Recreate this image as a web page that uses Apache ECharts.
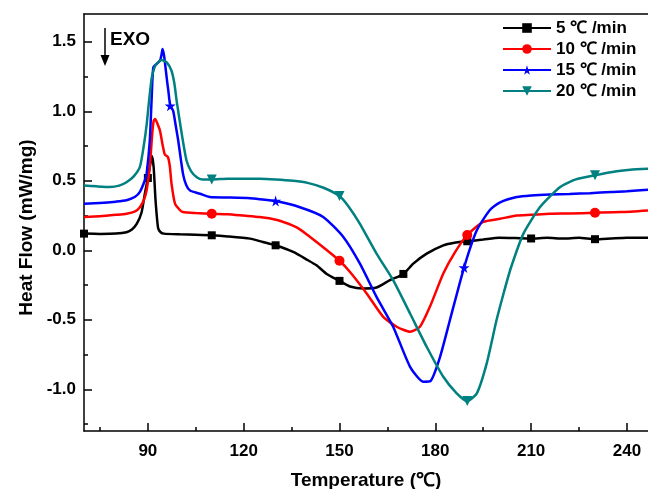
<!DOCTYPE html>
<html><head><meta charset="utf-8">
<script src="https://cdn.jsdelivr.net/npm/echarts@6/dist/echarts.min.js"></script>
<style>html,body{margin:0;padding:0;background:#fff}#c{width:648px;height:489px}</style>
</head><body><div id="c"></div>
<script>
const seriesNames = ['5 \u2103 /min', '10 \u2103 /min', '15 \u2103 /min', '20 \u2103 /min'];
const xLabelValues = [90, 120, 150, 180, 210, 240];
const xMinorValues = [75, 105, 135, 165, 195, 225];
const yLabelValues = [-1.0, -0.5, 0, 0.5, 1.0, 1.5];
const yMinorValues = [-1.25, -0.75, -0.25, 0.25, 0.75, 1.25];

const curve5 = [[70,0.12],[75,0.118],[80,0.12],[83.3,0.13],[85,0.15],[86.5,0.19],[88,0.27],[89,0.4],[90,0.52],[90.6,0.6],[91.2,0.68],[91.8,0.6],[92.4,0.36],[93.2,0.16],[94,0.13],[95,0.12],[100,0.115],[105,0.112],[110,0.108],[115,0.1],[122,0.084],[126,0.06],[130,0.036],[135.5,-0.012],[140,-0.07],[142.8,-0.108],[146,-0.17],[150,-0.22],[153.3,-0.26],[157.4,-0.275],[161.6,-0.268],[165.8,-0.215],[170,-0.17],[173.1,-0.096],[177.3,-0.024],[182.5,0.036],[186,0.055],[190,0.065],[195,0.077],[200,0.09],[205,0.088],[210,0.085],[215,0.09],[220,0.085],[225,0.09],[230,0.08],[235,0.085],[240,0.09],[246.6,0.09]];
const curve10 = [[70,0.24],[75,0.245],[80,0.255],[83.3,0.263],[86,0.28],[87.5,0.31],[88.7,0.36],[89.6,0.43],[90.6,0.6],[91.3,0.82],[91.8,0.93],[92.3,0.945],[93,0.91],[93.8,0.86],[94.6,0.76],[95.3,0.69],[96.3,0.67],[96.9,0.6],[97.4,0.48],[98.5,0.335],[100,0.29],[101,0.275],[105,0.268],[110,0.263],[115,0.26],[120,0.25],[125,0.24],[128,0.23],[132.4,0.204],[137,0.16],[140.8,0.096],[145,0.02],[150,-0.075],[153.3,-0.156],[158.5,-0.31],[163.7,-0.479],[167.9,-0.55],[172.1,-0.586],[175.2,-0.55],[178.3,-0.407],[182.5,-0.167],[186,-0.02],[190,0.11],[195,0.204],[200.3,0.227],[205.5,0.25],[210,0.255],[215.9,0.263],[222,0.265],[230,0.27],[238,0.275],[246.6,0.287]];
const curve15 = [[70,0.335],[75,0.34],[80,0.35],[83.3,0.36],[86,0.385],[87.5,0.42],[89,0.5],[89.6,0.55],[90.6,0.79],[91.2,1.1],[91.7,1.316],[92.7,1.34],[93.8,1.364],[94.3,1.41],[94.6,1.448],[95,1.41],[95.3,1.36],[96,1.22],[96.4,1.15],[97,1.04],[97.9,1.005],[98.7,0.9],[99.5,0.79],[101,0.55],[102,0.47],[103.2,0.43],[106.3,0.407],[109.4,0.383],[115,0.38],[122,0.375],[125,0.368],[130,0.354],[137.6,0.31],[144.9,0.24],[151.2,0.096],[156.4,-0.096],[161.6,-0.335],[166.8,-0.55],[172.1,-0.838],[176.2,-0.945],[178.5,-0.94],[181.5,-0.766],[184.6,-0.5],[189,-0.124],[193,0.144],[197.1,0.29],[200.3,0.345],[205.5,0.383],[210,0.395],[215.9,0.402],[222,0.405],[228.4,0.411],[235,0.42],[240,0.425],[246.6,0.436]];
const curve20 = [[70,0.467],[74,0.46],[78.1,0.455],[81,0.465],[83.3,0.49],[85.5,0.53],[87.5,0.6],[88.7,0.75],[89.6,0.9],[90.4,1.08],[91.2,1.24],[92,1.31],[92.7,1.34],[94.3,1.369],[95.9,1.352],[97.4,1.292],[98.3,1.2],[99,1.077],[100.6,0.838],[102.1,0.646],[103.5,0.57],[105.3,0.526],[107,0.51],[110,0.51],[115,0.515],[120,0.515],[125,0.515],[130,0.51],[135.5,0.5],[140,0.485],[145,0.45],[150,0.39],[153,0.31],[156.4,0.19],[161.6,-0.024],[166.8,-0.215],[172.1,-0.455],[177.3,-0.694],[182.5,-0.91],[186.7,-1.029],[190,-1.085],[193,-1.029],[196.1,-0.813],[199.2,-0.5],[201.5,-0.3],[203.6,-0.131],[207.6,0.12],[212.8,0.311],[219.1,0.455],[224,0.51],[230,0.54],[236.8,0.569],[241,0.58],[246.6,0.586]];

const markers5 = [70, 90, 110, 130, 150, 170, 190, 210, 230];
const markers10 = [110, 150, 190, 230];
const markers15 = [97, 130, 189];
const markers20 = [110, 150, 190, 230];

const curves = [curve5, curve10, curve15, curve20];
const markerLists = [markers5, markers10, markers15, markers20];
const colors = ['#000000', '#ff0000', '#0000ff', '#008080'];
const symbols = ['rect', 'circle', 'path://M50,0 L61,35 L98,35 L68,57 L79,91 L50,70 L21,91 L32,57 L2,35 L39,35 Z', 'triangle'];
const symbolRotates = [0, 0, 0, 180];
const symbolSizes = [8, 10, 11, 10];

const FONT = '"Liberation Sans", Arial, sans-serif';
const chart = echarts.init(document.getElementById('c'), null, {renderer: 'canvas'});

const series = curves.map((d, i) => ({
  name: seriesNames[i],
  type: 'line',
  data: d,
  xAxisIndex: 0,
  yAxisIndex: 0,
  smooth: 0.2,
  showSymbol: true,
  symbol: symbols[i],
  symbolRotate: symbolRotates[i],
  symbolSize: (val) => markerLists[i].includes(val[0]) ? symbolSizes[i] : 0,
  lineStyle: {color: colors[i], width: 2.5},
  itemStyle: {color: colors[i], borderWidth: 0},
  z: 2 + i,
  silent: true
}));

const axisCommon = {
  min: 70, max: 246.6, type: 'value', splitLine: {show: false}
};

chart.setOption({
  animation: false,
  backgroundColor: '#fff',
  grid: {left: 84, right: 0, top: 14, bottom: 58, containLabel: false, outerBoundsMode: 'none'},
  legend: {
    orient: 'vertical', left: 502, top: 18, padding: 0,
    itemWidth: 48, itemHeight: 12, itemGap: 1,
    data: seriesNames,
    textStyle: {fontFamily: FONT, fontSize: 17, fontWeight: 'bold', color: '#000', lineHeight: 20},
    selectedMode: false
  },
  xAxis: [
    Object.assign({}, axisCommon, {
      position: 'bottom',
      name: 'Temperature (\u2103)', nameLocation: 'middle', nameGap: 40,
      nameTextStyle: {fontFamily: FONT, fontSize: 19, fontWeight: 'bold', color: '#000'},
      axisLine: {show: true, onZero: false, lineStyle: {color: '#000', width: 1.5}},
      axisTick: {show: true, inside: true, length: 8, customValues: xLabelValues, lineStyle: {color: '#000', width: 1.5}},
      axisLabel: {show: true, customValues: xLabelValues, margin: 12, fontFamily: FONT, fontSize: 17, fontWeight: 'bold', color: '#000'}
    }),
    Object.assign({}, axisCommon, {
      position: 'bottom',
      axisLine: {show: false, onZero: false},
      axisTick: {show: true, inside: true, length: 4, customValues: xMinorValues, lineStyle: {color: '#000', width: 1.5}},
      axisLabel: {show: false}
    }),
    Object.assign({}, axisCommon, {
      position: 'top',
      axisLine: {show: true, onZero: false, lineStyle: {color: '#000', width: 1.5}},
      axisTick: {show: false},
      axisLabel: {show: false}
    })
  ],
  yAxis: [
    {
      type: 'value', min: -1.3, max: 1.7, position: 'left', splitLine: {show: false},
      name: 'Heat Flow (mW/mg)', nameLocation: 'middle', nameGap: 48,
      nameTextStyle: {fontFamily: FONT, fontSize: 19, fontWeight: 'bold', color: '#000', padding: [0, 10, 0, 0]},
      axisLine: {show: true, onZero: false, lineStyle: {color: '#000', width: 1.5}},
      axisTick: {show: true, inside: true, length: 8, customValues: yLabelValues, lineStyle: {color: '#000', width: 1.5}},
      axisLabel: {show: true, customValues: yLabelValues, margin: 8, fontFamily: FONT, fontSize: 17, fontWeight: 'bold', color: '#000',
        formatter: (v) => Number(v).toFixed(1)}
    },
    {
      type: 'value', min: -1.3, max: 1.7, position: 'left', splitLine: {show: false},
      axisLine: {show: false, onZero: false},
      axisTick: {show: true, inside: true, length: 4, customValues: yMinorValues, lineStyle: {color: '#000', width: 1.5}},
      axisLabel: {show: false}
    }
  ],
  graphic: [
    {type: 'line', shape: {x1: 105, y1: 28, x2: 105, y2: 60}, style: {stroke: '#000', lineWidth: 1.5}, z: 10},
    {type: 'polygon', shape: {points: [[100.5, 55], [109.5, 55], [105, 66]]}, style: {fill: '#000'}, z: 10},
    {type: 'text', left: 110, top: 30, style: {text: 'EXO', fontFamily: FONT, fontSize: 19, fontWeight: 'bold', fill: '#000'}, z: 10}
  ],
  series: series
});
</script>
</body></html>
